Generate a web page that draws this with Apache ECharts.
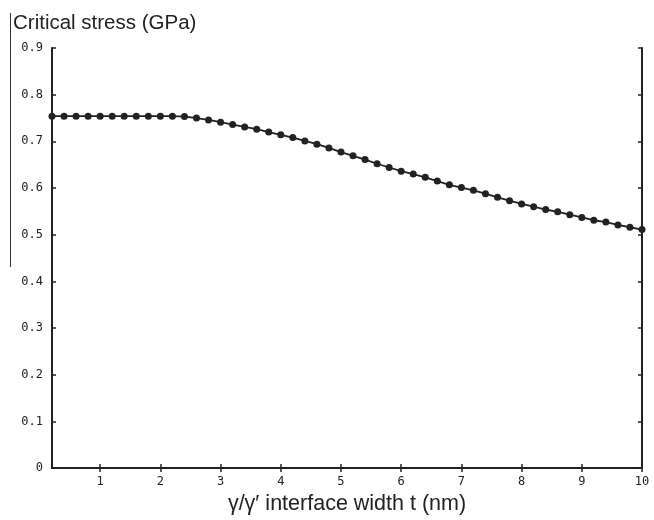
<!DOCTYPE html>
<html>
<head>
<meta charset="utf-8">
<script src="https://cdn.jsdelivr.net/npm/echarts@6/dist/echarts.min.js"></script>
<style>
  html, body { margin: 0; padding: 0; background: #fff; }
  #chart { width: 654px; height: 520px; }
</style>
</head>
<body>
<div id="chart"></div>
<script>
// Interface width t (nm), sampled every 0.2 nm
const widths = [
  0.2, 0.4, 0.6, 0.8, 1.0, 1.2, 1.4, 1.6, 1.8, 2.0,
  2.2, 2.4, 2.6, 2.8, 3.0, 3.2, 3.4, 3.6, 3.8, 4.0,
  4.2, 4.4, 4.6, 4.8, 5.0, 5.2, 5.4, 5.6, 5.8, 6.0,
  6.2, 6.4, 6.6, 6.8, 7.0, 7.2, 7.4, 7.6, 7.8, 8.0,
  8.2, 8.4, 8.6, 8.8, 9.0, 9.2, 9.4, 9.6, 9.8, 10.0
];
// Critical stress (GPa)
const stress = [
  0.754, 0.754, 0.754, 0.754, 0.754, 0.754, 0.754, 0.754, 0.754, 0.754,
  0.754, 0.753, 0.750, 0.746, 0.741, 0.736, 0.731, 0.726, 0.720, 0.714,
  0.708, 0.701, 0.694, 0.686, 0.677, 0.669, 0.661, 0.652, 0.644, 0.636,
  0.630, 0.623, 0.615, 0.607, 0.601, 0.595, 0.588, 0.580, 0.573, 0.566,
  0.560, 0.554, 0.549, 0.543, 0.537, 0.531, 0.527, 0.521, 0.516, 0.511
];
const xTicks = [1, 2, 3, 4, 5, 6, 7, 8, 9, 10];
const yTicks = [0, 0.1, 0.2, 0.3, 0.4, 0.5, 0.6, 0.7, 0.8, 0.9];

const ink = '#222';
const tickFont = 'DejaVu Sans Mono';

const chart = echarts.init(document.getElementById('chart'), null, { renderer: 'canvas' });

const axisLineStyle = { show: true, lineStyle: { color: ink, width: 2 } };
const innerTick = { show: true, inside: true, length: 4, lineStyle: { color: ink, width: 1.5 } };

chart.setOption({
  animation: false,
  backgroundColor: '#fff',
  title: {
    text: 'Critical stress (GPa)',
    left: 8,
    top: 8,
    textStyle: { fontFamily: 'Liberation Sans', fontSize: 20.5, fontWeight: 'normal', color: ink }
  },
  grid: { left: 52, right: 12, top: 48, bottom: 46, containLabel: false },
  xAxis: [
    {
      type: 'value',
      min: 0.2,
      max: 10,
      position: 'bottom',
      name: 'γ/γ′ interface width t (nm)',
      nameLocation: 'middle',
      nameGap: 23,
      nameTextStyle: { fontFamily: 'Liberation Sans', fontSize: 21.5, color: ink },
      axisLine: axisLineStyle,
      axisTick: Object.assign({ customValues: xTicks }, innerTick),
      axisLabel: {
        customValues: xTicks,
        margin: 8,
        fontFamily: tickFont,
        fontSize: 12,
        color: ink,
        formatter: v => String(Math.round(v))
      },
      splitLine: { show: false }
    },
    {
      type: 'value',
      min: 0.2,
      max: 10,
      position: 'top',
      axisLine: axisLineStyle,
      axisTick: Object.assign({ customValues: xTicks }, innerTick),
      axisLabel: { show: false },
      splitLine: { show: false }
    }
  ],
  yAxis: [
    {
      type: 'value',
      min: 0,
      max: 0.9,
      interval: 0.1,
      position: 'left',
      axisLine: axisLineStyle,
      axisTick: innerTick,
      axisLabel: {
        margin: 9,
        fontFamily: tickFont,
        fontSize: 12,
        color: ink,
        formatter: v => (Math.abs(v) < 1e-9 ? '0' : v.toFixed(1))
      },
      splitLine: { show: false }
    },
    {
      type: 'value',
      min: 0,
      max: 0.9,
      interval: 0.1,
      position: 'right',
      axisLine: axisLineStyle,
      axisTick: innerTick,
      axisLabel: { show: false },
      splitLine: { show: false }
    }
  ],
  graphic: [
    {
      type: 'line',
      shape: { x1: 10.5, y1: 13, x2: 10.5, y2: 267 },
      style: { stroke: '#333', lineWidth: 1 },
      silent: true
    }
  ],
  series: [
    {
      type: 'line',
      xAxisIndex: 0,
      yAxisIndex: 0,
      data: widths.map((w, i) => [w, stress[i]]),
      lineStyle: { color: ink, width: 1.8 },
      itemStyle: { color: ink },
      symbol: 'circle',
      symbolSize: 7,
      showSymbol: true,
      clip: false
    }
  ]
});
</script>
</body>
</html>
